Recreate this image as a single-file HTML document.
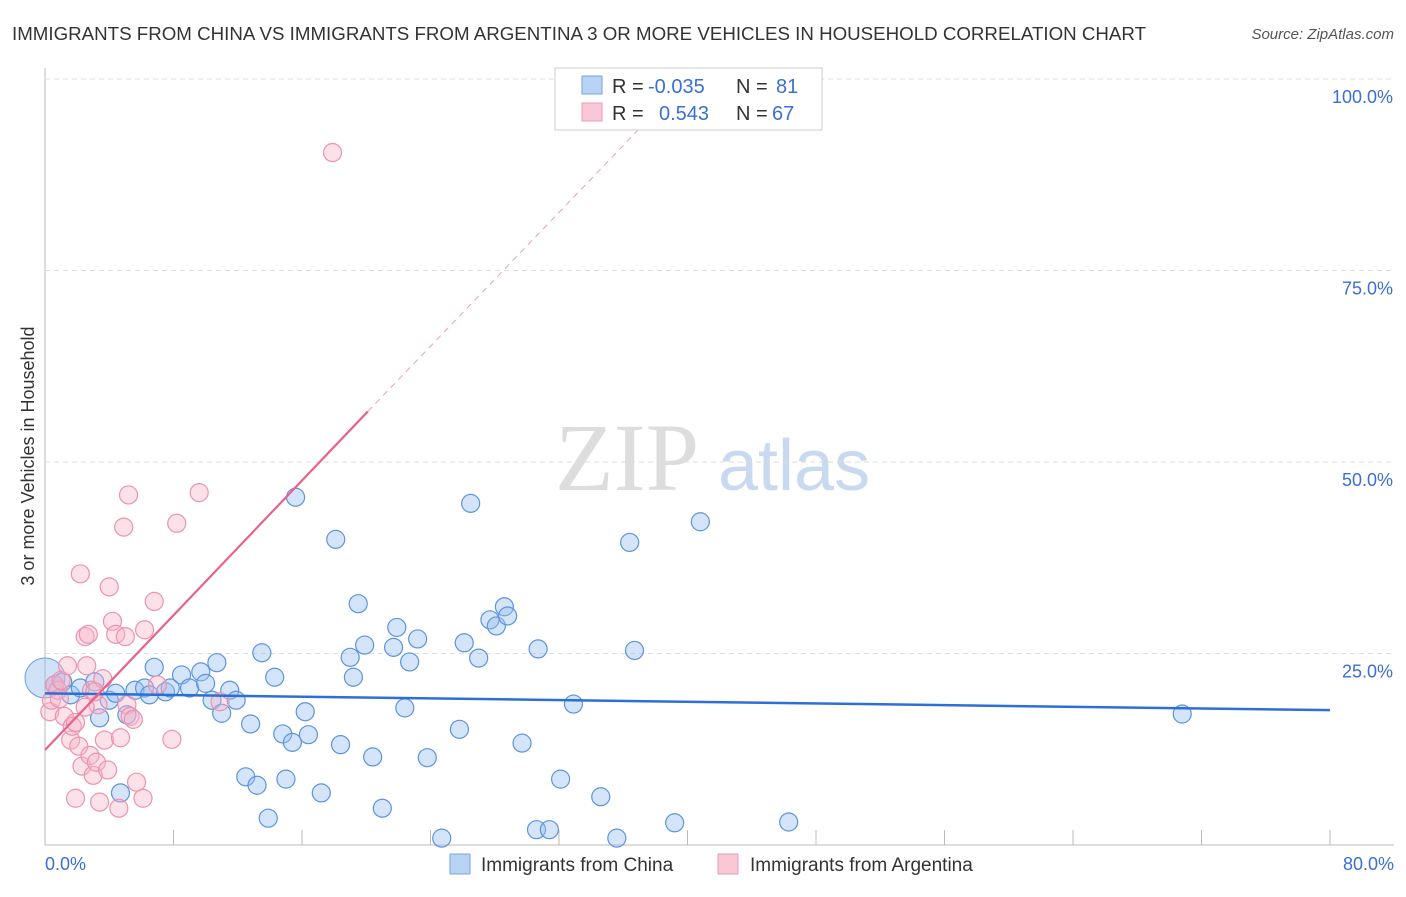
<!DOCTYPE html>
<html><head><meta charset="utf-8"><style>
body{margin:0;background:#fff;font-family:"Liberation Sans",sans-serif;}
</style></head><body>
<svg id="c" width="1406" height="892" xmlns="http://www.w3.org/2000/svg" style="font-family:'Liberation Sans',sans-serif">
<text x="12" y="40" font-size="18" fill="#333" textLength="1134" lengthAdjust="spacingAndGlyphs">IMMIGRANTS FROM CHINA VS IMMIGRANTS FROM ARGENTINA 3 OR MORE VEHICLES IN HOUSEHOLD CORRELATION CHART</text>
<text x="1394" y="39" font-size="15" fill="#555" text-anchor="end" font-style="italic">Source: ZipAtlas.com</text>
<text transform="translate(34,456) rotate(-90)" font-size="18" fill="#333" text-anchor="middle">3 or more Vehicles in Household</text>
<g><text x="555" y="490" font-size="96" fill="#ddd" font-family="Liberation Serif,serif">ZIP</text><text x="718" y="490" font-size="72" fill="#c9daf0">atlas</text></g>
<g id="grid"></g><g id="pts"></g><g id="lines"></g>
<g>
<rect x="555" y="68" width="267" height="62" fill="#fff" stroke="#ccc"/>
<rect x="582" y="76" width="20" height="18" fill="#b9d3f5" stroke="#7aa3dd"/>
<rect x="582" y="103" width="20" height="18" fill="#f9c8d6" stroke="#ea9ab2"/>
<text x="612" y="93" font-size="20" fill="#333">R =</text>
<text x="648" y="93" font-size="20" fill="#3b6fd4">-0.035</text>
<text x="736" y="93" font-size="20" fill="#333">N =</text>
<text x="776" y="93" font-size="20" fill="#3b6fd4">81</text>
<text x="612" y="120" font-size="20" fill="#333">R =</text>
<text x="659" y="120" font-size="20" fill="#3b6fd4">0.543</text>
<text x="736" y="120" font-size="20" fill="#333">N =</text>
<text x="772" y="120" font-size="20" fill="#3b6fd4">67</text>
</g>
<g>
<rect x="450" y="854" width="20" height="20" fill="#b9d3f5" stroke="#7aa3dd"/>
<text x="481" y="871" font-size="19" fill="#333">Immigrants from China</text>
<rect x="718" y="854" width="20" height="20" fill="#f9c8d6" stroke="#ea9ab2"/>
<text x="750" y="871" font-size="19" fill="#333">Immigrants from Argentina</text>
</g>
</svg>
<script>
const xTicks=[0,8,16,24,32,40,48,56,64,72,80];
const yTicks=[25,50,75,100];
const chinaX=[0.6,1.1,1.6,2.2,3.1,3.4,4.0,4.4,4.7,5.1,5.6,6.2,6.5,6.8,7.5,7.8,8.5,9.0,9.7,10.0,10.4,10.7,11.0,11.5,11.9,12.5,12.8,13.2,13.5,13.9,14.3,14.8,15.0,15.4,15.6,16.2,16.4,17.2,18.1,18.4,19.0,19.2,19.5,19.9,20.4,21.0,21.7,21.9,22.4,22.7,23.2,23.8,24.7,25.8,26.1,26.5,27.0,27.7,28.1,28.6,28.8,29.7,30.6,30.7,31.4,32.1,32.9,34.6,35.6,36.4,36.7,39.2,40.8,46.3,70.8];
const chinaY=[20.9,21.3,19.6,20.5,21.3,16.6,18.9,19.8,6.8,17.0,20.2,20.5,19.6,23.2,20.0,20.5,22.2,20.5,22.6,21.1,18.9,23.8,17.2,20.2,18.9,8.9,15.8,7.8,25.1,3.5,21.9,14.5,8.6,13.4,45.4,17.4,14.4,6.8,39.9,13.1,24.5,21.9,31.5,26.1,11.5,4.8,25.8,28.4,17.9,23.9,26.9,11.4,0.9,15.1,26.4,44.6,24.4,29.4,28.6,31.1,29.9,13.3,2.0,25.6,2.0,8.6,18.4,6.3,0.9,39.5,25.4,2.9,42.2,3.0,17.1];
const argX=[0.3,0.4,0.6,0.8,1.0,1.2,1.4,1.6,1.7,1.9,2.1,2.2,2.3,2.5,2.6,2.7,2.8,2.9,3.0,3.2,3.3,3.4,3.6,3.7,3.9,4.0,4.2,4.4,4.6,4.7,4.9,5.0,5.1,5.2,5.3,5.5,5.7,6.1,6.2,6.8,7.0,7.9,8.2,9.6,10.9,17.9,0.9,1.9,2.5,3.1];
const argY=[17.4,18.9,20.9,20.2,21.5,16.8,23.4,13.7,15.5,6.1,12.9,35.4,10.3,27.2,23.4,27.5,11.7,20.2,9.1,10.8,18.3,5.6,21.7,13.7,9.8,33.7,29.2,27.5,4.8,14.0,41.5,27.2,18.3,45.7,16.8,16.4,8.2,6.1,28.1,31.8,20.9,13.8,42.0,46.0,18.7,90.4,19.1,16.0,18.0,20.0];
const X=v=>45+v/80*1285, Y=v=>845-v/100*766;
const NS='http://www.w3.org/2000/svg';
function mk(t,a,p){const e=document.createElementNS(NS,t);for(const k in a)e.setAttribute(k,a[k]);p.appendChild(e);return e;}
const g=document.getElementById('grid');
let ax=mk('line',{x1:45,y1:68,x2:45,y2:845,stroke:'#bbb'},g);

let bx=mk('line',{x1:45,y1:845,x2:1394,y2:845,stroke:'#bbb'},g);

xTicks.forEach(t=>{const l=mk('line',{x1:X(t),y1:830,x2:X(t),y2:845,stroke:'#bbb'},g);
});
[[0,'0.0%',45,'start'],[80,'80.0%',1394,'end']].forEach(d=>{const t=mk('text',{x:d[2],y:870,'font-size':18,fill:'#3b6fd4','text-anchor':d[3]},g);t.textContent=d[1];
});
yTicks.forEach(v=>{const l=mk('line',{x1:45,y1:Y(v),x2:1394,y2:Y(v),stroke:'#ddd','stroke-dasharray':'5,4'},g);

const t=mk('text',{x:1393,y:Y(v)+24,'font-size':18,fill:'#3b6fd4','text-anchor':'end'},g);t.textContent=v.toFixed(1)+'%';
});
const p=document.getElementById('pts');
const big=mk('circle',{cx:X(0),cy:Y(21.8),r:20,fill:'rgba(150,190,240,0.45)',stroke:'#6b9ee0'},p);

chinaX.forEach((x,i)=>{const c=mk('circle',{cx:X(x),cy:Y(chinaY[i]),r:9,fill:'rgba(150,190,240,0.4)',stroke:'#5d93de','stroke-width':1.2},p);
});
argX.forEach((x,i)=>{const c=mk('circle',{cx:X(x),cy:Y(argY[i]),r:9,fill:'rgba(248,180,200,0.4)',stroke:'#ec93ae','stroke-width':1.2},p);
});
const L=document.getElementById('lines');
let b=mk('line',{x1:X(0),y1:Y(19.8),x2:X(80),y2:Y(17.6),stroke:'#2c6fd6','stroke-width':2.5},L);

let a1=mk('line',{x1:X(0),y1:Y(12.4),x2:X(20.1),y2:Y(56.6),stroke:'#e8628a','stroke-width':2.2},L);

let a2=mk('line',{x1:X(20.1),y1:Y(56.6),x2:X(37),y2:Y(93.5),stroke:'#e8a0b6','stroke-width':1,'stroke-dasharray':'6,5'},L);

</script>
</body></html>
